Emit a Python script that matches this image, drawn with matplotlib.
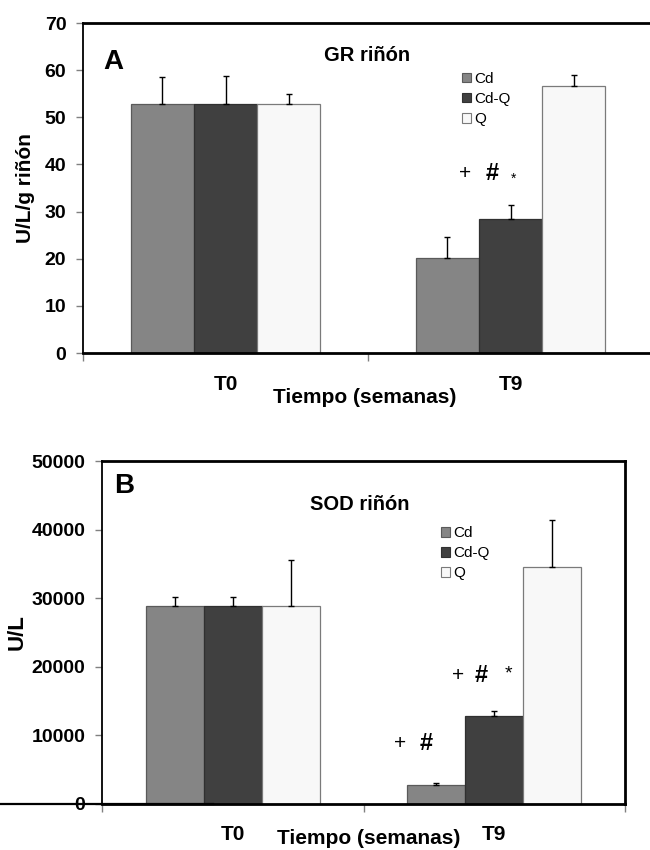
"""GR / SOD riñón bar panels (A, B) — Cd, Cd-Q, Q at T0 and T9."""
import numpy as np
import matplotlib
matplotlib.use("Agg")
import matplotlib.pyplot as plt
from matplotlib.lines import Line2D

plt.rcParams["font.family"] = ["Liberation Sans", "DejaVu Sans"]

# ---- data ----
times = ["T0", "T9"]
groups = ["Cd", "Cd-Q", "Q"]
colors = ["#858585", "#404040", "#f8f8f8"]
edges = ["#5a5a5a", "#303030", "#7a7a7a"]

gr_mean = {"Cd": [52.9, 20.1], "Cd-Q": [52.9, 28.4], "Q": [52.9, 56.7]}
gr_sd = {"Cd": [5.7, 4.5], "Cd-Q": [5.9, 2.9], "Q": [2.1, 2.2]}

sod_mean = {"Cd": [28800, 2700], "Cd-Q": [28800, 12900], "Q": [28800, 34600]}
sod_sd = {"Cd": [1400, 300], "Cd-Q": [1400, 700], "Q": [6800, 6800]}

W = 0.222
x = np.arange(len(times))


def panel(ax, mean, sd, ylim, yticks, tick_fs, xpad):
    for i, g in enumerate(groups):
        pos = x + (i - 1) * W
        m = np.array(mean[g]); s = np.array(sd[g])
        ax.bar(pos, m, W, color=colors[i], edgecolor=edges[i], lw=0.9, label=g, zorder=2)
        ax.errorbar(pos, m, yerr=[np.zeros_like(s), s], fmt="none", ecolor="black",
                    elinewidth=1.0, capsize=2.5, capthick=1.0, zorder=3)
    ax.set_xlim(-0.5, 1.5)
    ax.set_ylim(*ylim)
    ax.set_yticks(yticks)
    ax.set_yticklabels([f"{v:g}" for v in yticks], fontsize=tick_fs, fontweight="bold")
    ax.tick_params(axis="y", direction="out", length=5, width=1, color="#808080", pad=7)
    ax.set_xticks(x)
    ax.set_xticklabels(times, fontsize=15, fontweight="bold")
    ax.tick_params(axis="x", which="major", length=0, pad=xpad)
    ax.set_xticks([-0.5, 0.5, 1.5], minor=True)
    ax.tick_params(axis="x", which="minor", direction="out", length=6, width=1, color="#808080")
    ax.spines["left"].set_linewidth(1.3)
    ax.spines["bottom"].set_linewidth(2.0)
    ax.spines["top"].set_linewidth(2.0)
    ax.spines["right"].set_linewidth(2.0)
    return [plt.Rectangle((0, 0), 1, 1, fc=colors[i], ec=edges[i], lw=0.8) for i in range(3)]


fig = plt.figure(figsize=(6.5, 8.5), dpi=100)

# ---- panel A: GR ----
axA = fig.add_axes([83 / 650, 1 - 353 / 850, 570 / 650, 330 / 850])
h = panel(axA, gr_mean, gr_sd, (0, 70), np.arange(0, 71, 10), 14, 16)
axA.set_ylabel("U/L/g riñón", fontsize=15, fontweight="bold")
axA.yaxis.set_label_coords(-0.084, 0.5)
axA.text(0.495, -0.135, "Tiempo (semanas)", transform=axA.transAxes, ha="center", va="center",
         fontsize=15, fontweight="bold")
axA.text(0.495, 63.2, "GR riñón", ha="center", va="center", fontsize=14.5, fontweight="bold")
axA.text(-0.395, 61.8, "A", ha="center", va="center", fontsize=20, fontweight="bold")
axA.legend(h, groups, loc="upper left", bbox_to_anchor=(0.665, 0.852), frameon=False,
           fontsize=11, handlelength=0.6, handleheight=0.6, handletextpad=0.2,
           labelspacing=0.4, borderpad=0, borderaxespad=0)
axA.text(0.840, 38.0, "+", ha="center", va="center", fontsize=15)
axA.text(0.935, 38.0, "#", ha="center", va="center", fontsize=17, fontweight="bold")
axA.text(1.012, 37.0, "*", ha="center", va="center", fontsize=10)

# ---- panel B: SOD ----
axB = fig.add_axes([102 / 650, 1 - 804 / 850, 523 / 650, 343 / 850])
h = panel(axB, sod_mean, sod_sd, (0, 50000), np.arange(0, 50001, 10000), 14, 15)
axB.set_ylabel("U/L", fontsize=16, fontweight="bold")
axB.yaxis.set_label_coords(-0.142, 0.5)
axB.text(0.51, -0.101, "Tiempo (semanas)", transform=axB.transAxes, ha="center", va="center",
         fontsize=15, fontweight="bold")
axB.text(0.486, 43590, "SOD riñón", ha="center", va="center", fontsize=14.5, fontweight="bold")
axB.text(-0.415, 46400, "B", ha="center", va="center", fontsize=20, fontweight="bold")
axB.legend(h, groups, loc="upper left", bbox_to_anchor=(0.648, 0.81), frameon=False,
           fontsize=11, handlelength=0.6, handleheight=0.6, handletextpad=0.2,
           labelspacing=0.4, borderpad=0, borderaxespad=0)
axB.text(0.640, 8750, "+", ha="center", va="center", fontsize=15)
axB.text(0.739, 8750, "#", ha="center", va="center", fontsize=17, fontweight="bold")
axB.text(0.861, 18800, "+", ha="center", va="center", fontsize=15)
axB.text(0.949, 18800, "#", ha="center", va="center", fontsize=17, fontweight="bold")
axB.text(1.053, 18900, "*", ha="center", va="center", fontsize=14)

# stray baseline on the left of panel B in the source scan
fig.add_artist(Line2D([0, 213 / 650], [1 - 804 / 850] * 2, color="black", lw=1.6))

fig.savefig("out.png", dpi=100)
